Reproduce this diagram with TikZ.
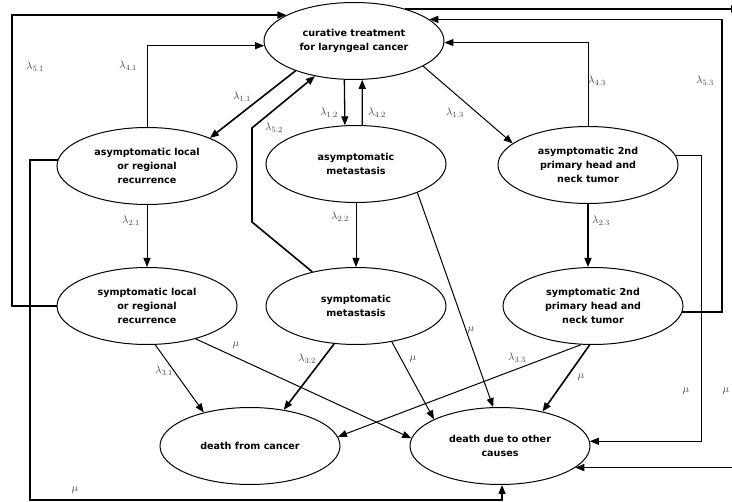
\documentclass[tikz,border=0pt]{standalone}
\usepackage{fontspec}
\newfontfamily\statefont{DejaVu Sans}
\usetikzlibrary{arrows.meta,shapes.geometric}

\begin{document}
\begin{tikzpicture}[x=1pt,y=-1pt,
  state/.style={ellipse,draw,line width=1pt,minimum width=180pt,minimum height=77pt,
    inner sep=0pt,align=center,font=\statefont\bfseries\fontsize{9.6}{14}\selectfont},
  link/.style={line width=1pt,-{Triangle[length=9pt,width=7pt]}},
  heavy/.style={link,line width=1.6pt},
  rate/.style={font=\fontsize{11}{12}\selectfont,text=black!75,inner sep=0pt}]
\useasboundingbox (0,0) rectangle (732,502);

% states
\node[state] (CT)  at (354,41)  {curative treatment\\for laryngeal cancer};
\node[state] (ALR) at (147,166) {asymptomatic local\\or regional\\recurrence};
\node[state] (AM)  at (356,164) {asymptomatic\\metastasis};
\node[state] (A2)  at (588,165) {asymptomatic 2nd\\primary head and\\neck tumor};
\node[state] (SLR) at (147,306) {symptomatic local\\or regional\\recurrence};
\node[state] (SM)  at (356,306) {symptomatic\\metastasis};
\node[state] (S2)  at (593,306) {symptomatic 2nd\\primary head and\\neck tumor};
\node[state] (DC)  at (250,446) {death from cancer};
\node[state] (DO)  at (500,446) {death due to other\\causes};

% routing points
\coordinate (L51)  at (12,0);
\coordinate (K52a) at (252,222);
\coordinate (K52b) at (252,128);
\coordinate (R53)  at (722,0);
\coordinate (R2)   at (701,0);
\coordinate (B1)   at (30,500);
\coordinate (EdgeR) at (740,0);

% back to curative treatment
\draw[heavy] (SLR.west) -| (L51 |- CT.159.9) -- (CT.159.9);
\draw[link]  (ALR.north) |- (CT.183.9);
\draw[heavy] (CT.207.3) -- (ALR.24.7);
\draw[heavy] (SM.142.6) -- (K52a) -- (K52b) -- (CT.222.7);
\draw[link,line width=1.3pt] (CT.256.8) -- (AM.106.1);
\draw[link,line width=1.3pt] (AM.81.1) -- (CT.-78.2);
\draw[link]  (CT.-20.4) -- (A2.164.4);
\draw[link]  (A2.north) |- (CT.-1.3);
\draw[heavy] (S2.-4.5) -| (R53 |- CT.16.6) -- (CT.16.6);

% curative treatment to death from other causes (runs outside)
\draw[heavy] (CT.32.6) -- (CT.32.6 -| EdgeR);
\draw[heavy] (EdgeR |- DO.-16.6) -- (DO.-16.6);

% progression
\draw[link]  (ALR.south) -- (SLR.north);
\draw[link]  (AM.south) -- (SM.north);
\draw[heavy] (A2.south) -- (A2.south |- S2.north);

% deaths
\draw[link]  (A2.6.6) -| (R2 |- DO.3.9) -- (DO.3.9);
\draw[heavy] (ALR.176.1) -| (B1) -| (DO.-87.4);
\draw[link]  (SLR.-78.2) -- (DC.144.1);
\draw[link]  (SLR.-34.8) -- (DO.175);
\draw[heavy] (SM.240.7) -- (DC.47.2);
\draw[link]  (SM.-45.7) -- (DO.158.8);
\draw[link]  (AM.-25.1) -- (DO.100.2);
\draw[link]  (S2.253.7) -- (DC.6.7);
\draw[heavy] (S2.265) -- (DO.39.9);

% transition rates
\node[rate] (l51) at (35,67)   {$\lambda_{5.1}$};
\node[rate] (l41) at (128,66)  {$\lambda_{4.1}$};
\node[rate] (l11) at (242,97)  {$\lambda_{1.1}$};
\node[rate] (l12) at (329,113) {$\lambda_{1.2}$};
\node[rate] (l52) at (274,128) {$\lambda_{5.2}$};
\node[rate] (l42) at (377,113) {$\lambda_{4.2}$};
\node[rate] (l13) at (455,113) {$\lambda_{1.3}$};
\node[rate] (l43) at (597,81)  {$\lambda_{4.3}$};
\node[rate] (l53) at (705,81)  {$\lambda_{5.3}$};
\node[rate] (l21) at (131,221) {$\lambda_{2.1}$};
\node[rate] (l22) at (340,217) {$\lambda_{2.2}$};
\node[rate] (l23) at (601,221) {$\lambda_{2.3}$};
\node[rate] (l31) at (164,371) {$\lambda_{3.1}$};
\node[rate] (l32) at (307,359) {$\lambda_{3.2}$};
\node[rate] (l33) at (517,358) {$\lambda_{3.3}$};
\node[rate] (m1)  at (236,345) {$\mu$};
\node[rate] (m2)  at (471,330) {$\mu$};
\node[rate] (m3)  at (413,359) {$\mu$};
\node[rate] (m4)  at (581,377) {$\mu$};
\node[rate] (m5)  at (686,391) {$\mu$};
\node[rate] (m6)  at (726,391) {$\mu$};
\node[rate] (m7)  at (75,490)  {$\mu$};
\end{tikzpicture}
\end{document}
